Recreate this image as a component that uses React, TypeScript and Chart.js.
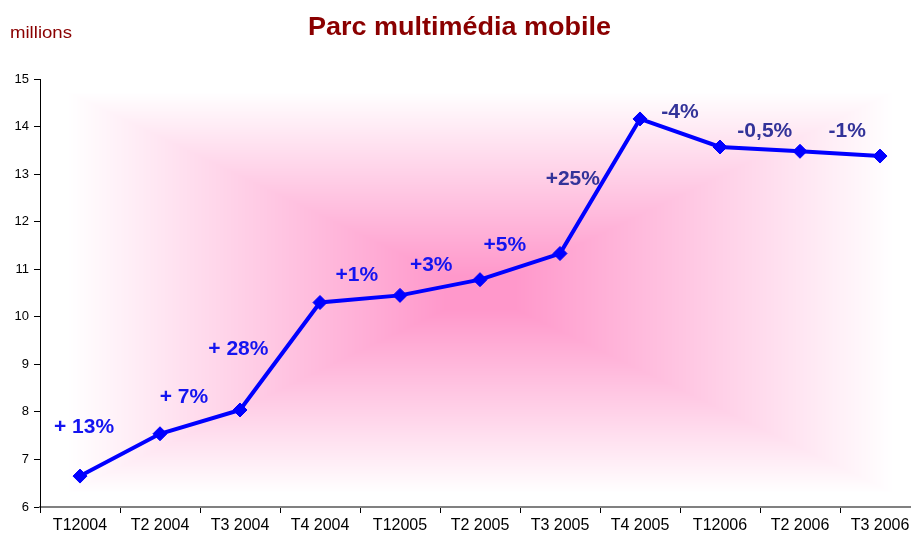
import React, { useEffect, useRef } from 'react';
import { Chart, registerables } from 'chart.js';

Chart.register(...registerables);

const categories = ['T12004', 'T2 2004', 'T3 2004', 'T4 2004', 'T12005', 'T2 2005', 'T3 2005', 'T4 2005', 'T12006', 'T2 2006', 'T3 2006'];
const parcValues = [6.65, 7.54, 8.04, 10.3, 10.45, 10.78, 11.33, 14.16, 13.57, 13.48, 13.38];
const yMin = 6;
const yMax = 15;
const growthLabels = ['+ 13%', '+ 7%', '+ 28%', '+1%', '+3%', '+5%', '+25%', '-4%', '-0,5%', '-1%'];
const growthLabelIndex = [0.05, 1.3, 1.98, 3.46, 4.39, 5.31, 6.16, 7.5, 8.56, 9.59];
const growthLabelValue = [7.68, 8.31, 9.32, 10.88, 11.09, 11.51, 12.9, 14.31, 13.91, 13.91];
const growthLabelDark = [false, false, false, false, false, false, true, true, true, true];

const FONT = '"Liberation Sans", Arial, sans-serif';
const TITLE_COLOR = '#8a0000';

function drawFitted(ctx: CanvasRenderingContext2D, text: string, font: string, color: string, left: number, baseline: number, width: number) {
  ctx.save();
  ctx.font = font;
  const w = ctx.measureText(text).width;
  ctx.translate(left, baseline);
  ctx.scale(width / w, 1);
  ctx.fillStyle = color;
  ctx.textAlign = 'left';
  ctx.textBaseline = 'alphabetic';
  ctx.fillText(text, 0, 0);
  ctx.restore();
}

const boxGradientPlugin = {
  id: 'boxGradient',
  beforeDraw(chart: any) {
    const { ctx, chartArea: a } = chart;
    const left = Math.round(a.left) + 1;
    const top = Math.round(a.top);
    const w = Math.round(a.right) - left;
    const h = Math.round(a.bottom) - top - 1;
    if (w <= 0 || h <= 0) return;
    const img = ctx.createImageData(w, h);
    const d = img.data;
    const hw = w / 2;
    const hh = h / 2;
    const c0 = [255, 255, 255];
    const c1 = [255, 152, 203];
    for (let y = 0; y < h; y++) {
      const dy = Math.abs(y + 0.5 - hh) / hh;
      for (let x = 0; x < w; x++) {
        const dx = Math.abs(x + 0.5 - hw) / hw;
        let t = Math.max(0, 1 - Math.max(dx, dy));
        t = Math.min(1, Math.max(0, (t - 0.06) / 0.86));
        const i = (y * w + x) * 4;
        d[i] = c0[0] + (c1[0] - c0[0]) * t;
        d[i + 1] = c0[1] + (c1[1] - c0[1]) * t;
        d[i + 2] = c0[2] + (c1[2] - c0[2]) * t;
        d[i + 3] = 255;
      }
    }
    ctx.putImageData(img, left, top);
  },
};

const textPlugin = {
  id: 'texts',
  afterDraw(chart: any) {
    const { ctx } = chart;
    drawFitted(ctx, 'Parc multimédia mobile', `bold 25px ${FONT}`, TITLE_COLOR, 308, 35, 303);
    drawFitted(ctx, 'millions', `17px ${FONT}`, TITLE_COLOR, 10, 38, 62);
    const xs = chart.scales.x;
    const ys = chart.scales.y;
    ctx.save();
    ctx.font = `bold 21px ${FONT}`;
    ctx.textAlign = 'center';
    ctx.textBaseline = 'middle';
    growthLabels.forEach((lab, i) => {
      ctx.fillStyle = growthLabelDark[i] ? '#333399' : '#1414f0';
      ctx.fillText(lab, xs.getPixelForValue(growthLabelIndex[i]), ys.getPixelForValue(growthLabelValue[i]));
    });
    ctx.restore();
  },
};

export default function App() {
  const ref = useRef<HTMLCanvasElement | null>(null);
  useEffect(() => {
    document.body.style.margin = '0';
    document.body.style.overflow = 'hidden';
    const canvas = ref.current;
    if (!canvas) return;
    const chart = new Chart(canvas, {
      type: 'line',
      data: {
        labels: categories,
        datasets: [
          {
            data: parcValues,
            borderColor: '#0000ff',
            backgroundColor: '#0000ff',
            borderWidth: 4,
            pointStyle: 'rectRot',
            pointRadius: 7,
            pointBackgroundColor: '#0000ff',
            pointBorderColor: '#0000ff',
            pointBorderWidth: 1,
            tension: 0,
            clip: false as any,
          },
        ],
      },
      options: {
        responsive: false,
        animation: false,
        devicePixelRatio: 1,
        layout: { padding: { top: 79, right: 10, left: 0, bottom: 0 } },
        plugins: { legend: { display: false }, tooltip: { enabled: false }, title: { display: false } },
        scales: {
          x: {
            type: 'category',
            offset: true,
            grid: { display: true, drawOnChartArea: false, drawTicks: true, tickLength: 6, offset: true, color: '#000', lineWidth: 1 },
            border: { display: true, color: '#808080', width: 2 },
            ticks: { color: '#000', font: { family: FONT, size: 16 }, padding: 3, maxRotation: 0, autoSkip: false },
            afterFit: (s: any) => { s.height = 36; },
          },
          y: {
            min: yMin,
            max: yMax,
            grid: { display: true, drawOnChartArea: false, drawTicks: true, tickLength: 6, color: '#000', lineWidth: 1 },
            border: { display: true, color: '#000', width: 1 },
            ticks: { stepSize: 1, color: '#000', font: { family: FONT, size: 13 }, padding: 5 },
            afterFit: (s: any) => { s.width = 40; },
          },
        },
      },
      plugins: [boxGradientPlugin, textPlugin],
    });
    return () => chart.destroy();
  }, []);
  return <canvas ref={ref} width={930} height={543} style={{ display: 'block', width: 930, height: 543 }} />;
}
